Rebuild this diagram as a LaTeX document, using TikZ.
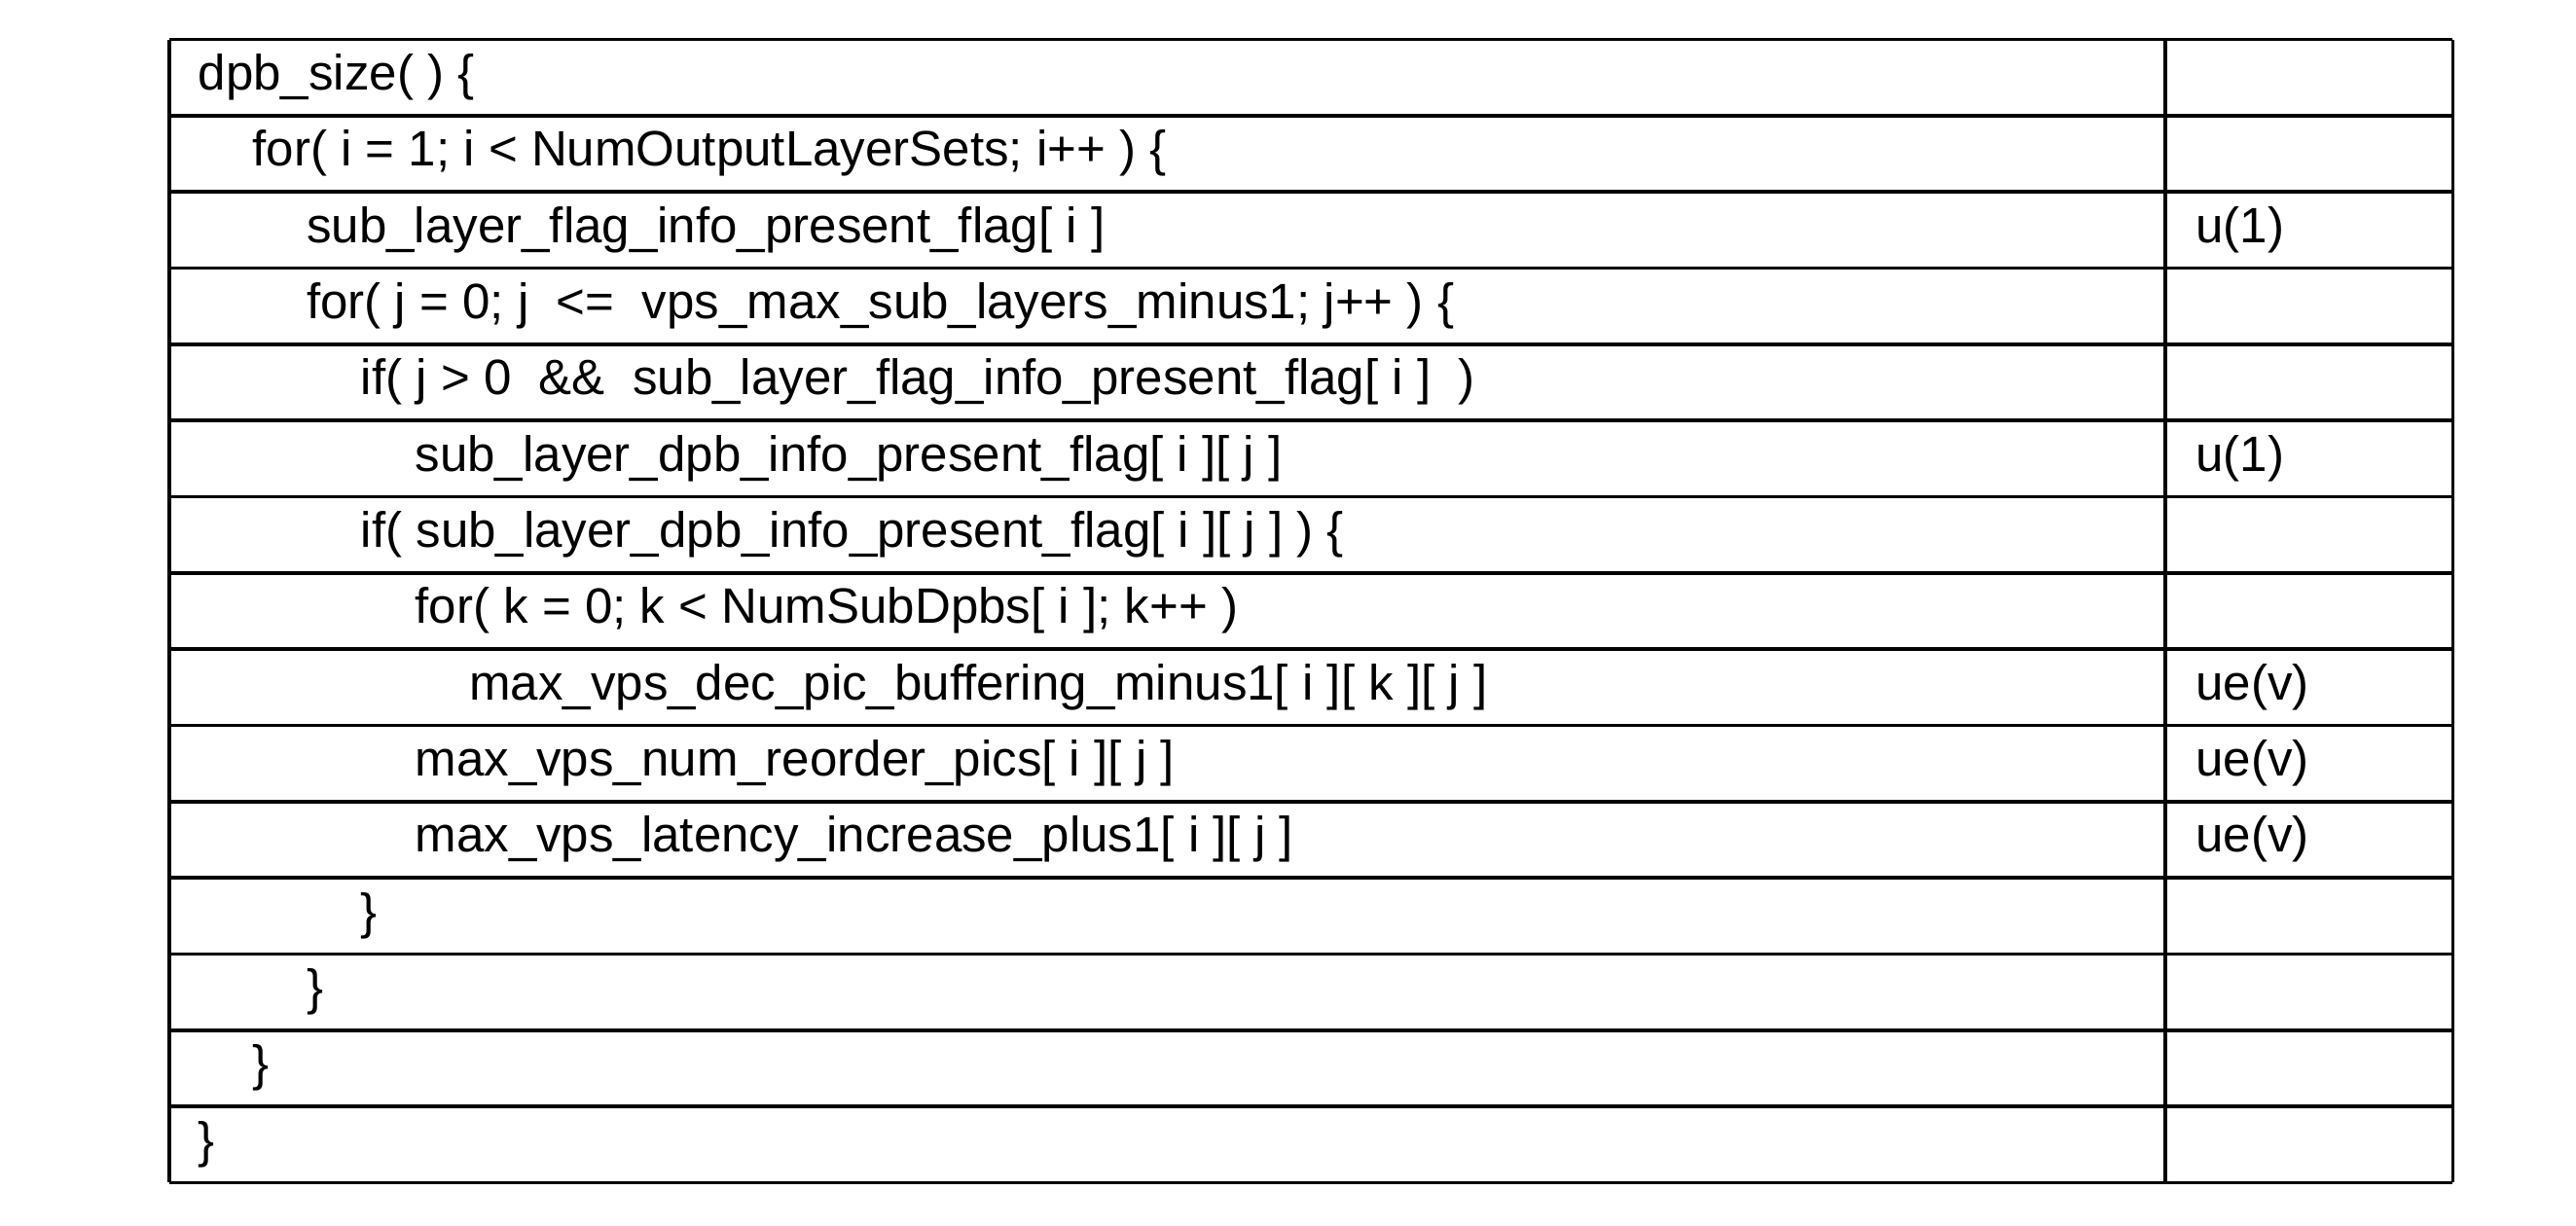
\documentclass[tikz,border=0pt]{standalone}
\usepackage{fontspec}
\setmainfont{Liberation Sans}
\usetikzlibrary{positioning}
\tikzset{cell/.style = {anchor = west, inner sep = 0, font = \fontsize{8.6}{10}\selectfont}}
\begin{document}
\begin{tikzpicture}[x=0.01cm, y=-0.01cm]
      \useasboundingbox (0, 0) rectangle (1568, 746);
      % rows of the table
      \foreach \r in {0,...,15}
        \draw [line width=0.6pt] (103, 24+46.4*\r) -- (1493, 24+46.4*\r);
      \draw [line width=0.6pt] (103, 24) -- (103, 720);
      \draw [line width=0.6pt] (1318, 24) -- (1318, 720);
      \draw [line width=0.6pt] (1493, 24) -- (1493, 720);

      \foreach \r/\l/\t [count=\n] in {
          0/0/{dpb\_size( ) \{},
          1/1/{for( i = 1; i < NumOutputLayerSets; i++ ) \{},
          2/2/{sub\_layer\_flag\_info\_present\_flag[ i ]},
          3/2/{for( j = 0; j \ <= \ vps\_max\_sub\_layers\_minus1; j++ ) \{},
          4/3/{if( j > 0 \ \&\& \ sub\_layer\_flag\_info\_present\_flag[ i ] \ )},
          5/4/{sub\_layer\_dpb\_info\_present\_flag[ i ][ j ]},
          6/3/{if( sub\_layer\_dpb\_info\_present\_flag[ i ][ j ] ) \{},
          7/4/{for( k = 0; k < NumSubDpbs[ i ]; k++ )},
          8/5/{max\_vps\_dec\_pic\_buffering\_minus1[ i ][ k ][ j ]},
          9/4/{max\_vps\_num\_reorder\_pics[ i ][ j ]},
          10/4/{max\_vps\_latency\_increase\_plus1[ i ][ j ]},
          11/3/{\}},
          12/2/{\}},
          13/1/{\}},
          14/0/{\}}}
        \node [cell] (row\n) at (120+33*\l, 47+46.4*\r) {\t};

      \foreach \r/\d [count=\n] in {2/u(1), 5/u(1), 8/ue(v), 9/ue(v), 10/ue(v)}
        \node [cell] (desc\n) at (1336, 47+46.4*\r) {\d};
    \end{tikzpicture}
\end{document}
